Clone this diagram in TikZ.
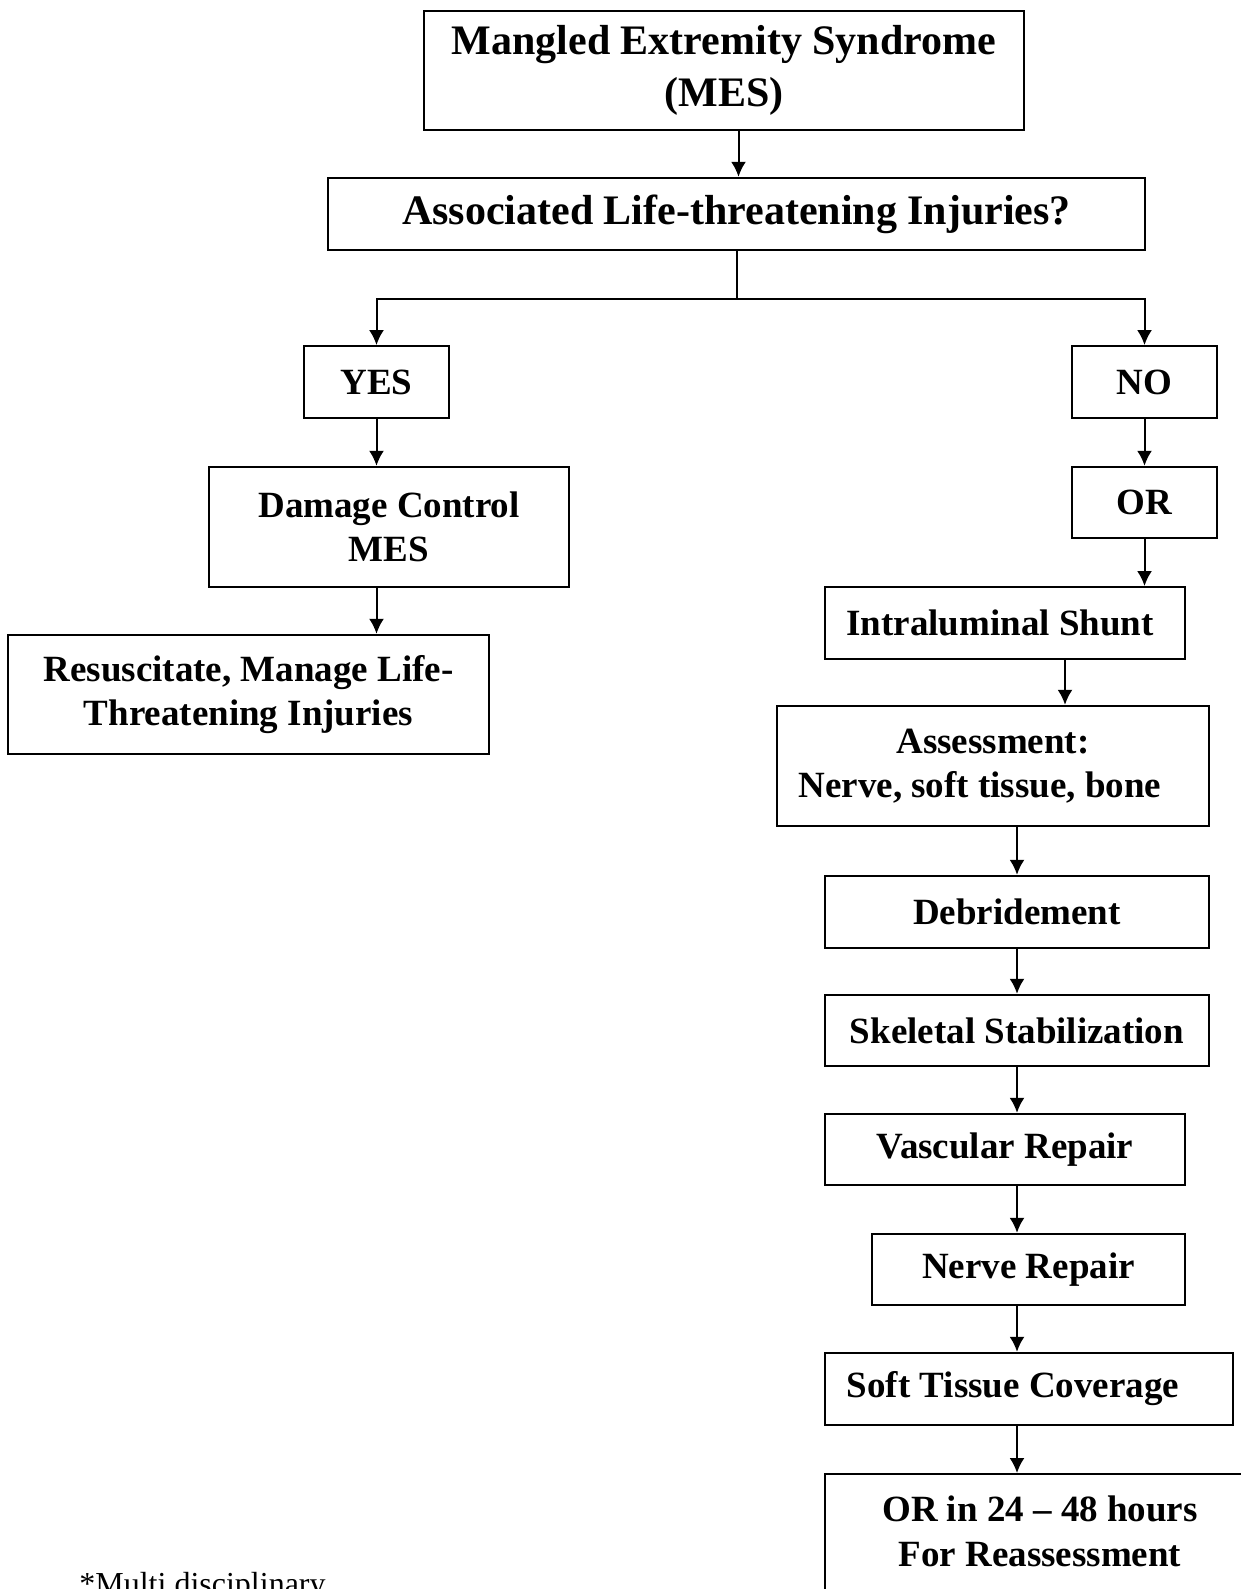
\documentclass[tikz,border=0pt]{standalone}
\usepackage{fontspec}
\setmainfont{Liberation Serif}
\usetikzlibrary{arrows.meta}
\begin{document}
\begin{tikzpicture}[x=0.5pt,y=-0.5pt,
		box/.style={draw, line width=1.2pt, inner sep=0pt, align=center, font=\fontsize{18.5}{22.3}\selectfont\bfseries},
		bigbox/.style={box, font=\fontsize{21}{26}\selectfont\bfseries},
		arr/.style={line width=1pt, -{Latex[length=7.5pt,width=7.5pt]}}]
	\useasboundingbox (0,0) rectangle (1241,1589);
	\clip (0,0) rectangle (1241,1589);
	% top
	\node (mes) [bigbox, minimum width=299.75pt, minimum height=59.5pt] at (724,70.5) {Mangled Extremity Syndrome\\(MES)};
	\node (assoc) [bigbox, minimum width=408.5pt, minimum height=36pt] at (736.5,214) {Associated Life-threatening Injuries?};
	% left branch
	\node (yes) [box, minimum width=72.5pt, minimum height=35.75pt] at (376.5,382) {YES};
	\node (dmg) [box, minimum width=180pt, minimum height=60pt] at (389,527) {Damage Control\\MES};
	\node (resus) [box, minimum width=240.5pt, minimum height=59.5pt] at (248.5,694.5) {Resuscitate, Manage Life-\\Threatening Injuries};
	% right branch
	\node (no) [box, minimum width=72.5pt, minimum height=35.75pt] at (1144.5,382) {NO};
	\node (orbox) [box, minimum width=72.5pt, minimum height=35.5pt] at (1144.5,502.5) {OR};
	\node (shunt) [box, minimum width=180pt, minimum height=35.75pt] at (1005,623) {\mbox{Intraluminal Shunt\hspace{5pt}}};
	\node (assess) [box, minimum width=216pt, minimum height=60pt] at (993,766) {Assessment:\\\mbox{Nerve, soft tissue, bone\hspace{13pt}}};
	\node (debr) [box, minimum width=192pt, minimum height=36pt] at (1017,912) {Debridement};
	\node (skel) [box, minimum width=192pt, minimum height=35.5pt] at (1017,1030.5) {Skeletal Stabilization};
	\node (vasc) [box, minimum width=180pt, minimum height=35.5pt] at (1005,1149.5) {Vascular Repair};
	\node (nerve) [box, minimum width=156.5pt, minimum height=35.5pt] at (1028.5,1269.5) {Nerve Repair};
	\node (soft) [box, minimum width=204pt, minimum height=36pt] at (1029,1389) {\mbox{Soft Tissue Coverage\hspace{16pt}}};
	\node (final) [box, anchor=north, minimum width=215pt, inner ysep=11pt] at (1040,1473) {OR in 24 -- 48 hours\\For Reassessment\\[0pt]\strut};
	\node (note) [anchor=base west, inner sep=0pt, font=\fontsize{16}{19}\selectfont] at (79,1594) {*Multi disciplinary};
	% connectors
	\draw [arr] (mes.south -| 738.5,0) -- (assoc.north -| 738.5,0);
	\draw [line width=1pt] (assoc.south) -- ++(0,48) coordinate (split);
	\draw [arr] (split) -| (yes.north);
	\draw [arr] (split) -| (no.north);
	\draw [arr] (yes.south) -- (yes.south |- dmg.north);
	\draw [arr] (dmg.south -| yes.south) -- (resus.north -| yes.south);
	\draw [arr] (no) -- (orbox);
	\draw [arr] (orbox) -- (orbox.south |- shunt.north);
	\draw [arr] (shunt.south -| 1065,0) -- (assess.north -| 1065,0);
	\draw [arr] (assess.south -| debr) -- (debr);
	\draw [arr] (debr) -- (skel);
	\draw [arr] (skel.south -| debr) -- (vasc.north -| debr);
	\draw [arr] (vasc.south -| debr) -- (nerve.north -| debr);
	\draw [arr] (nerve.south -| debr) -- (soft.north -| debr);
	\draw [arr] (soft.south -| debr) -- (final.north -| debr);
\end{tikzpicture}
\end{document}
